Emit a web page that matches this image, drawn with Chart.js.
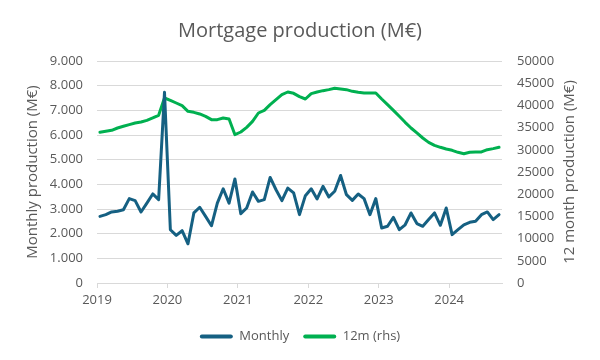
<!DOCTYPE html>
<html>
<head>
<meta charset="utf-8">
<script src="https://cdn.jsdelivr.net/npm/chart.js@4.4.1/dist/chart.umd.min.js"></script>
<style>
  html, body { margin: 0; padding: 0; background: #fff; }
  #wrap { width: 600px; height: 360px; }
</style>
</head>
<body>
<div id="wrap"><canvas id="chart" width="600" height="360"></canvas></div>
<script>
// months since Jan 2019, one value per month (Jan 2019 - Sep 2024)
var firstYear = 2019;
var yearTicks = [0, 12, 24, 36, 48, 60];

var monthly = [
  2700, 2770, 2880, 2910, 2970, 3420, 3340, 2880, 3240, 3610, 3380, 7730,
  2160, 1930, 2120, 1590, 2840, 3070, 2700, 2320, 3240, 3820, 3240, 4220,
  2810, 3040, 3690, 3310, 3380, 4280, 3780, 3340, 3850, 3650, 2770, 3540,
  3820, 3410, 3920, 3490, 3720, 4360, 3580, 3350, 3610, 3420, 2770, 3420,
  2230, 2300, 2660, 2160, 2360, 2840, 2410, 2300, 2570, 2840, 2340, 3040,
  1960, 2160, 2360, 2460, 2500, 2770, 2880, 2570, 2770
];

var rolling12m = [
  33940, 34160, 34390, 34910, 35290, 35660, 36040, 36260, 36640, 37170, 37770, 41670,
  41140, 40540, 39940, 38670, 38440, 38070, 37540, 36790, 36790, 37170, 36940, 33410,
  34010, 35060, 36410, 38290, 38890, 40170, 41290, 42420, 43020, 42720, 41970, 41440,
  42650, 43020, 43320, 43550, 43850, 43700, 43550, 43170, 42950, 42800, 42800, 42800,
  41440, 40170, 38890, 37540, 36190, 34910, 33790, 32660, 31680, 31010, 30560, 30180,
  29880, 29430, 29130, 29430, 29510, 29510, 30030, 30260, 30560
];

var grey = '#595959';
var gridGrey = '#d9d9d9';
var fam = "'Open Sans', sans-serif";
var rightTitle = '12 month production (M€)';

// points sit in the middle of their month
function toPoints(arr) {
  return arr.map(function(v, i) { return { x: i + 0.5, y: v }; });
}

// right axis title reads bottom-to-top like the left one
var rightTitlePlugin = {
  id: 'rightTitle',
  afterDraw: function(c) {
    var area = c.chartArea;
    var g = c.ctx;
    g.save();
    g.translate(c.width - 30, (area.top + area.bottom) / 2);
    g.rotate(-Math.PI / 2);
    g.fillStyle = grey;
    g.font = "15px " + fam;
    g.textAlign = 'center';
    g.textBaseline = 'middle';
    g.fillText(rightTitle, 0, 0);
    g.restore();
  }
};

var ctx = document.getElementById('chart').getContext('2d');
var chart = new Chart(ctx, {
  type: 'line',
  data: {
    datasets: [
      {
        label: 'Monthly',
        data: toPoints(monthly),
        yAxisID: 'y',
        borderColor: '#156082',
        backgroundColor: '#156082',
        borderWidth: 3,
        pointRadius: 0,
        borderJoinStyle: 'round',
        borderCapStyle: 'round',
        tension: 0
      },
      {
        label: '12m (rhs)',
        data: toPoints(rolling12m),
        yAxisID: 'y2',
        borderColor: '#00b050',
        backgroundColor: '#00b050',
        borderWidth: 3,
        pointRadius: 0,
        borderJoinStyle: 'round',
        borderCapStyle: 'round',
        tension: 0
      }
    ]
  },
  plugins: [rightTitlePlugin],
  options: {
    responsive: false,
    animation: false,
    layout: { padding: { top: 19, left: 0, right: 0, bottom: 7 } },
    plugins: {
      title: {
        display: true,
        text: 'Mortgage production (M€)',
        color: grey,
        font: { family: fam, size: 20, weight: 'normal' },
        padding: { top: 0, bottom: 18 }
      },
      legend: {
        position: 'bottom',
        labels: {
          color: grey,
          font: { family: fam, size: 13 },
          boxWidth: 33,
          boxHeight: 4,
          padding: 14,
          generateLabels: function(c) {
            var items = Chart.defaults.plugins.legend.labels.generateLabels(c);
            items.forEach(function(it) { it.lineWidth = 0; it.borderRadius = 2; });
            return items;
          }
        }
      },
      tooltip: { enabled: false }
    },
    scales: {
      x: {
        type: 'linear',
        min: 0,
        max: 69,
        afterBuildTicks: function(s) {
          s.ticks = yearTicks.map(function(v) { return { value: v }; });
        },
        ticks: {
          color: grey,
          font: { family: fam, size: 13 },
          padding: 4,
          maxRotation: 0,
          autoSkip: false,
          callback: function(v) { return String(firstYear + v / 12); }
        },
        grid: { drawOnChartArea: false, color: gridGrey, tickLength: 5 },
        border: { color: gridGrey },
        afterFit: function(s) { s.height = 33; }
      },
      y: {
        position: 'left',
        min: 0,
        max: 9000,
        ticks: {
          stepSize: 1000,
          color: grey,
          font: { family: fam, size: 13 },
          padding: 14,
          callback: function(v) { return v === 0 ? '0' : (v / 1000) + '.000'; }
        },
        grid: { color: gridGrey, drawTicks: false },
        border: { display: false },
        title: {
          display: true,
          text: 'Monthly production (M€)',
          color: grey,
          font: { family: fam, size: 15 },
          padding: { top: 24, bottom: 0 }
        },
        afterFit: function(s) { s.width = 97; }
      },
      y2: {
        position: 'right',
        min: 0,
        max: 50000,
        ticks: {
          stepSize: 5000,
          color: grey,
          font: { family: fam, size: 13 },
          padding: 15,
          callback: function(v) { return String(v); }
        },
        grid: { drawOnChartArea: false, drawTicks: false },
        border: { display: false },
        afterFit: function(s) { s.width = 98; }
      }
    }
  }
});
</script>
</body>
</html>
